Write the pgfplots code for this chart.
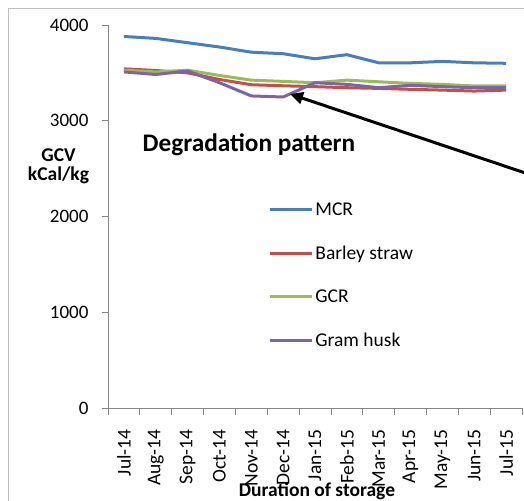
\documentclass[border=0pt]{standalone}
\usepackage{fontspec}
\setmainfont{Carlito}
\usepackage{pgfplots}
\pgfplotsset{compat=1.18}
\usetikzlibrary{arrows.meta}
\definecolor{mcr}{HTML}{4A7EBB}
\definecolor{barley}{HTML}{C0504D}
\definecolor{gcr}{HTML}{9BBB59}
\definecolor{gram}{HTML}{8064A2}
\definecolor{axisgray}{HTML}{868686}
\definecolor{framegray}{HTML}{BFBFBF}
\begin{document}
\begin{tikzpicture}
\useasboundingbox (0bp,0bp) rectangle (524bp,501bp);
\clip (0bp,0bp) rectangle (524bp,501bp);
\draw[color=framegray, line width=1bp] (8.5bp,-20bp) -- (8.5bp,492.5bp) -- (560bp,492.5bp);
\begin{axis}[
  at={(108bp,93bp)}, anchor=south west,
  scale only axis, width=414bp, height=383bp,
  xmin=-0.5, xmax=12.5, ymin=0, ymax=4000,
  axis lines=left,
  axis line style={-, draw=axisgray, line width=0.8bp},
  tick align=outside,
  major tick length=6bp, minor tick length=7bp,
  tick style={draw=axisgray, line width=0.8bp},
  every major x tick/.append style={draw=none},
  ytick={0,1000,2000,3000,4000},
  xtick={0,...,12},
  minor xtick={-0.5,0.5,...,12.5},
  xticklabels={Jul-14,Aug-14,Sep-14,Oct-14,Nov-14,Dec-14,Jan-15,Feb-15,Mar-15,Apr-15,May-15,Jun-15,Jul-15},
  xticklabel style={rotate=90, anchor=east, font=\fontsize{19.5bp}{22bp}\selectfont},
  yticklabel style={font=\fontsize{19bp}{22bp}\selectfont},
  xticklabel shift=12bp,
  yticklabel shift=10bp,
  /pgf/number format/assume math mode=true,
  /pgf/number format/1000 sep={},
  legend style={at={(axis description cs:0.387,0.542)}, anchor=north west, draw=none, fill=none,
    font=\fontsize{19.5bp}{22bp}\selectfont, row sep=25bp, inner sep=0pt,
    nodes={inner sep=2bp}},
  legend cell align=left,
  legend image code/.code={\draw[#1] (0bp,0bp) -- (42bp,0bp);},
]
\addplot[mcr, line width=3bp, line join=round] coordinates {
(0,3880) (1,3860) (2,3815) (3,3770) (4,3716) (5,3700) (6,3647) (7,3690) (8,3605) (9,3605) (10,3620) (11,3605) (12,3600)};
\addlegendentry{MCR}
\addplot[barley, line width=3bp, line join=round] coordinates {
(0,3542) (1,3525) (2,3500) (3,3431) (4,3376) (5,3365) (6,3356) (7,3345) (8,3338) (9,3328) (10,3320) (11,3310) (12,3320)};
\addlegendentry{Barley straw}
\addplot[gcr, line width=3bp, line join=round] coordinates {
(0,3528) (1,3510) (2,3528) (3,3473) (4,3424) (5,3411) (6,3397) (7,3424) (8,3407) (9,3390) (10,3380) (11,3363) (12,3363)};
\addlegendentry{GCR}
\addplot[gram, line width=3bp, line join=round] coordinates {
(0,3510) (1,3483) (2,3520) (3,3397) (4,3259) (5,3248) (6,3397) (7,3380) (8,3345) (9,3370) (10,3356) (11,3345) (12,3345)};
\addlegendentry{Gram husk}
\end{axis}
\node[anchor=base, font=\fontsize{25.3bp}{29bp}\selectfont\bfseries, inner sep=0pt] at (249bp,349bp) {Degradation pattern};
\node[anchor=base, font=\fontsize{19.5bp}{22bp}\selectfont\bfseries, inner sep=0pt] at (58.5bp,339bp) {GCV};
\node[anchor=base, font=\fontsize{19.5bp}{22bp}\selectfont\bfseries, inner sep=0pt] at (58.5bp,320bp) {kCal/kg};
\node[anchor=base, font=\fontsize{19.5bp}{22bp}\selectfont\bfseries, inner sep=0pt] at (317bp,5bp) {Duration of storage};
\draw[line width=3bp, -{Triangle[length=13bp,width=12bp]}] (570bp,313bp) -- (290bp,407bp);
\end{tikzpicture}
\end{document}
